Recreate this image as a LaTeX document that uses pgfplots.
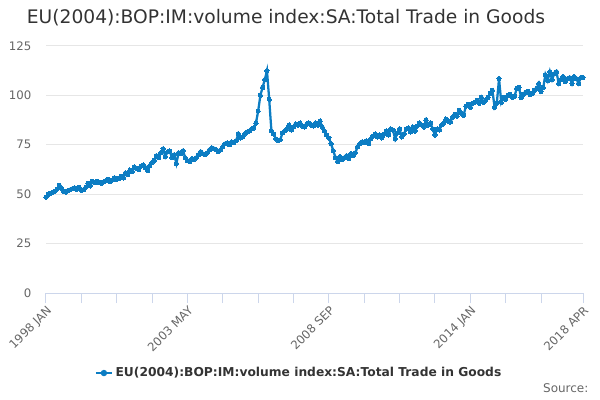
\documentclass[border=0pt]{standalone}
\usepackage{pgfplots}
\pgfplotsset{compat=1.18}
\usepackage{pgfplotstable}
\usepackage{fontspec}
\setmainfont{DejaVu Sans}
\definecolor{serc}{RGB}{12,125,195}
\definecolor{gridc}{RGB}{230,230,230}
\definecolor{axisc}{RGB}{204,214,235}
\definecolor{lblc}{RGB}{102,102,102}
\definecolor{ttlc}{RGB}{51,51,51}
\pgfplotstableread{
i v
0 48.5
1 50.0
2 50.5
3 51.0
4 51.5
5 52.5
6 54.5
7 53.0
8 51.5
9 51.0
10 51.8
11 52.3
12 52.8
13 53.2
14 52.5
15 53.4
16 52.0
17 52.3
18 53.5
19 55.5
20 54.2
21 56.5
22 55.8
23 56.6
24 56.0
25 55.5
26 56.2
27 56.8
28 57.5
29 56.5
30 57.2
31 58.3
32 57.6
33 58.0
34 59.0
35 58.2
36 60.8
37 60.0
38 62.2
39 61.5
40 63.8
41 63.0
42 62.5
43 64.2
44 64.8
45 63.5
46 62.0
47 64.5
48 66.0
49 67.2
50 69.5
51 68.5
52 71.0
53 73.0
54 69.0
55 71.5
56 71.8
57 68.5
58 70.0
59 65.5
60 71.0
61 70.5
62 72.0
63 68.5
64 67.0
65 66.5
66 68.0
67 67.5
68 68.5
69 70.0
70 71.5
71 70.5
72 70.0
73 71.0
74 72.5
75 73.5
76 73.0
77 72.5
78 71.5
79 72.5
80 74.0
81 75.5
82 76.0
83 75.0
84 76.5
85 76.0
86 77.0
87 80.5
88 78.5
89 79.0
90 80.5
91 81.5
92 82.0
93 83.0
94 83.5
95 86.0
96 92.0
97 100.0
98 104.0
99 108.0
100 112.5
101 98.0
102 82.0
103 80.5
104 78.0
105 77.0
106 77.5
107 81.0
108 82.0
109 83.0
110 85.0
111 82.5
112 84.0
113 85.5
114 85.0
115 86.0
116 84.5
117 84.0
118 85.5
119 86.0
120 85.0
121 84.5
122 86.0
123 85.0
124 87.0
125 84.0
126 82.0
127 80.0
128 78.5
129 75.5
130 72.0
131 68.5
132 66.5
133 69.0
134 67.5
135 68.5
136 69.5
137 68.0
138 70.5
139 69.5
140 71.0
141 74.0
142 75.5
143 76.5
144 76.0
145 77.0
146 75.5
147 78.0
148 79.5
149 80.5
150 79.0
151 80.0
152 78.5
153 80.5
154 82.0
155 80.0
156 83.0
157 82.5
158 78.0
159 81.0
160 83.0
161 79.0
162 80.5
163 83.0
164 83.5
165 81.5
166 84.0
167 82.0
168 84.5
169 86.0
170 85.0
171 84.0
172 87.5
173 85.0
174 86.0
175 83.0
176 80.0
177 83.0
178 82.5
179 85.0
180 86.0
181 88.0
182 87.0
183 86.5
184 89.0
185 90.5
186 89.5
187 92.5
188 91.0
189 90.0
190 94.5
191 95.5
192 94.0
193 96.0
194 96.5
195 97.5
196 96.0
197 99.0
198 96.5
199 97.5
200 99.0
201 101.0
202 102.5
203 94.0
204 96.0
205 108.5
206 96.5
207 99.0
208 98.0
209 100.0
210 100.5
211 99.0
212 99.5
213 103.5
214 104.0
215 99.0
216 100.5
217 101.5
218 102.0
219 100.5
220 101.0
221 102.5
222 103.5
223 106.0
224 102.0
225 104.0
226 110.5
227 107.5
228 112.0
229 108.0
230 111.0
231 112.0
232 106.0
233 108.0
234 109.5
235 107.0
236 108.5
237 109.0
238 106.0
239 109.5
240 108.5
241 106.0
242 109.0
243 109.0
}\datatable
\begin{document}
\begin{tikzpicture}
\useasboundingbox (0,0) rectangle (450pt,300pt);
\node[font=\fontsize{14}{17}\selectfont, text=ttlc] at (214.5pt,286.5pt) {EU(2004):BOP:IM:volume index:SA:Total Trade in Goods};
\node[font=\fontsize{9}{11}\selectfont, text=lblc, anchor=east, inner sep=0pt] at (441.5pt,9pt) {Source:};
\begin{axis}[
  at={(34.5pt,80.25pt)}, anchor=south west,
  scale only axis, width=402.75pt, height=185.25pt,
  xmin=0, xmax=243, ymin=0, ymax=125,
  axis lines*=left,
  y axis line style={draw=none},
  x axis line style={axisc, line width=0.75pt},
  xtick={0,64,128,192,243},
  xticklabels={1998 JAN,2003 MAY,2008 SEP,2014 JAN,2018 APR},
  extra x ticks={16,32,48,80,96,112,144,160,176,208,224},
  extra x tick labels={},
  extra x tick style={grid=none},
  ytick={0,25,50,75,100,125},
  xtick style={axisc, line width=0.75pt},
  ytick style={draw=none},
  tick align=outside,
  major tick length=7.5pt,
  ymajorgrids=true,
  grid style={gridc, line width=0.75pt},
  /pgf/number format/assume math mode=true,
  tick label style={font=\fontsize{8.8}{10}\selectfont, text=lblc},
  xticklabel style={rotate=45, anchor=north east, inner sep=1pt},
  legend style={at={(axis description cs:0.472,-0.324)}, anchor=center, draw=none, fill=none,
    font=\bfseries\fontsize{9.2}{12}\selectfont, text=ttlc},
  legend image code/.code={
    \draw[#1, line width=1.5pt] (0pt,0pt) -- (12pt,0pt);
    \fill[serc] (6pt,0pt) circle (1.5pt);
  },
]
\addplot[color=serc, line width=1.7pt, mark=*, mark size=1.6pt, mark options={line width=0pt, fill=serc}] table[x=i, y=v] {\datatable};
\addlegendentry{EU(2004):BOP:IM:volume index:SA:Total Trade in Goods}
\end{axis}
\end{tikzpicture}
\end{document}
